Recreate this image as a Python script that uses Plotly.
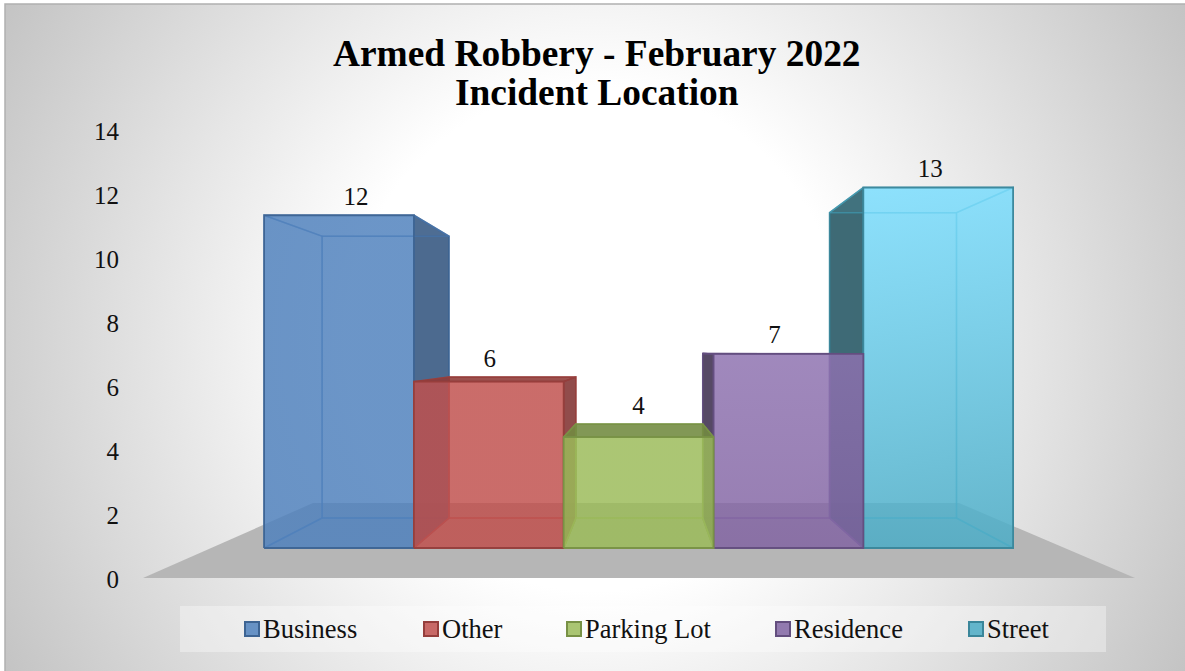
import base64
import plotly.graph_objects as go

# ---- data ----
categories = ["Business", "Other", "Parking Lot", "Residence", "Street"]
values = [12, 6, 4, 7, 13]
y_ticks = [0, 2, 4, 6, 8, 10, 12, 14]
title_lines = ["Armed Robbery - February 2022", "Incident Location"]
series_rgb = [(79, 129, 189), (192, 80, 77), (155, 187, 89), (128, 100, 162), (75, 172, 198)]
front_top_rgb = [(79, 129, 189), (192, 80, 77), (155, 187, 89), (142, 114, 176), (122, 222, 255)]
front_bottom_rgb = [(79, 129, 189), (192, 80, 77), (155, 187, 89), (130, 100, 162), (75, 172, 198)]

# ---- canvas / axis scales ----
W, H = 1185, 671
PX_PER_CAT, CAT0_PX = 149.8, 339.0
PX_PER_UNIT, ZERO_PX = 31.98, 579.3
FLOOR_FRONT = (ZERO_PX - 548) / PX_PER_UNIT   # front bottom edge of the bars
BAR_SCALE = 27.73 / PX_PER_UNIT               # front-plane height of one value
BACK_SCALE = 0.847                            # perspective shrink of the rear plane
VX, VY = 2.03, (ZERO_PX - 352) / PX_PER_UNIT  # vanishing point


def proj(x, v, depth):
    s = 1 - depth * (1 - BACK_SCALE)
    y = FLOOR_FRONT + BAR_SCALE * v
    return VX + (x - VX) * s, VY + (y - VY) * s


def rgba(c, a, f=1.0):
    return f"rgba({int(c[0]*f)},{int(c[1]*f)},{int(c[2]*f)},{a})"


fig = go.Figure()


def face(corners, fill, line, width=1.5, name=None, gradient=None):
    xs = [p[0] for p in corners] + [corners[0][0]]
    ys = [p[1] for p in corners] + [corners[0][1]]
    kw = dict(fillgradient=gradient) if gradient else dict(fillcolor=fill)
    fig.add_trace(go.Scatter(x=xs, y=ys, mode="lines", fill="toself", name=name,
                             line=dict(color=line, width=width), hoverinfo="skip",
                             showlegend=False, **kw))


# floor
fl_front_y = (ZERO_PX - 578) / PX_PER_UNIT
fl_back_y = (ZERO_PX - 503) / PX_PER_UNIT
to_x = lambda px: (px - CAT0_PX) / PX_PER_CAT
face([(to_x(143), fl_front_y), (to_x(1135), fl_front_y), (to_x(959), fl_back_y), (to_x(313), fl_back_y)],
     "#b6b6b6", "rgba(182,182,182,0)", 0)

for i in [0, 4, 1, 3, 2]:
    c, v = series_rgb[i], values[i]
    xl, xr = i - 0.5, i + 0.5
    edge = rgba(c, 0.95, 0.78)
    soft = rgba(c, 0.6, 0.95)
    fbl, fbr, ftr, ftl = proj(xl, 0, 0), proj(xr, 0, 0), proj(xr, v, 0), proj(xl, v, 0)
    bbl, bbr, btr, btl = proj(xl, 0, 1), proj(xr, 0, 1), proj(xr, v, 1), proj(xl, v, 1)
    # rear and floor faces
    face([bbl, bbr, btr, btl], rgba(c, 0.10), soft)
    face([fbl, fbr, bbr, bbl], rgba(c, 0.15), soft)
    # side faces: dark when they stick out of the front face
    left_out = xl > VX
    right_out = xr < VX
    face([fbl, bbl, btl, ftl], rgba(c, 0.88, 0.5) if left_out else rgba(c, 0.10), edge if left_out else soft)
    face([fbr, bbr, btr, ftr], rgba(c, 0.88, 0.68) if right_out else rgba(c, 0.10), edge if right_out else soft)
    # top face
    top_out = ftl[1] < VY
    face([ftl, ftr, btr, btl], rgba(c, 0.88, 0.74) if top_out else rgba(c, 0.10), edge if top_out else soft)
    # front face
    grad = dict(type="vertical",
                colorscale=[[0, rgba(front_bottom_rgb[i], 0.82)], [1, rgba(front_top_rgb[i], 0.82)]])
    face([fbl, fbr, ftr, ftl], None, edge, 1.8, categories[i], grad)

# data labels
label_dx = [17, 1, 0, -14, -8]
lx, ly, lt = [], [], []
for i, v in enumerate(values):
    lx.append(i + label_dx[i] / PX_PER_CAT)
    ly.append(max(proj(i, v, 0)[1], proj(i, v, 1)[1]) + 16.5 / PX_PER_UNIT)
    lt.append(str(v))
fig.add_trace(go.Scatter(x=lx, y=ly, text=lt, mode="text", textposition="middle center",
                         textfont=dict(family="Liberation Serif", size=25, color="#111"),
                         hoverinfo="skip", showlegend=False))

# background gradient as an image
svg = f"""<svg xmlns='http://www.w3.org/2000/svg' width='{W-5}' height='{H-4}' preserveAspectRatio='none'>
<defs><radialGradient id='g' gradientUnits='userSpaceOnUse' cx='0' cy='0' r='1'
 gradientTransform='translate(590,335) scale(680,690)'>
<stop offset='0' stop-color='#ffffff'/><stop offset='0.365' stop-color='#ffffff'/>
<stop offset='1' stop-color='#c3c3c3'/></radialGradient></defs>
<rect width='100%' height='100%' fill='url(#g)'/></svg>"""
bg_uri = "data:image/svg+xml;base64," + base64.b64encode(svg.encode()).decode()

shapes = [
    dict(type="rect", xref="paper", yref="paper", x0=5 / W, x1=1 + 2 / W, y0=-2 / H, y1=1 - 4 / H,
         fillcolor="rgba(0,0,0,0)", line=dict(color="#b0b0b0", width=1.5), layer="below"),
    dict(type="rect", xref="paper", yref="paper", x0=180 / W, x1=1106 / W,
         y0=1 - 652 / H, y1=1 - 606 / H, fillcolor="rgba(255,255,255,0.35)",
         line=dict(width=0), layer="below"),
]
annotations = []
for line, ty in zip(title_lines, [53, 92]):
    annotations.append(dict(xref="paper", yref="paper", x=597 / W, y=1 - ty / H, text=f"<b>{line}</b>",
                            showarrow=False, xanchor="center", yanchor="middle",
                            font=dict(family="Liberation Serif", size=37.4, color="black")))
swatch_px = [244, 423, 566, 775, 968]
for i, name in enumerate(categories):
    sx = swatch_px[i]
    shapes.append(dict(type="rect", xref="paper", yref="paper", x0=(sx + 1) / W, x1=(sx + 15) / W,
                       y0=1 - 636 / H, y1=1 - 622 / H, fillcolor=rgba(series_rgb[i], 0.85),
                       line=dict(color=rgba(series_rgb[i], 1, 0.78), width=2)))
    annotations.append(dict(xref="paper", yref="paper", x=(sx + 17) / W, y=1 - 629 / H, text=name,
                            showarrow=False, xanchor="left", yanchor="middle",
                            font=dict(family="Liberation Serif", size=26.5, color="#111")))

fig.update_layout(
    width=W, height=H, autosize=False,
    margin=dict(l=0, r=0, t=0, b=0, pad=0),
    paper_bgcolor="white", plot_bgcolor="rgba(0,0,0,0)",
    showlegend=False,
    xaxis=dict(visible=False, range=[(0 - CAT0_PX) / PX_PER_CAT, (W - CAT0_PX) / PX_PER_CAT],
               fixedrange=True),
    yaxis=dict(range=[(ZERO_PX - H) / PX_PER_UNIT, ZERO_PX / PX_PER_UNIT], tickvals=y_ticks,
               anchor="free", position=119 / W, showgrid=False, zeroline=False, showline=False,
               ticks="", fixedrange=True,
               tickfont=dict(family="Liberation Serif", size=25, color="#111")),
    images=[dict(source=bg_uri, xref="paper", yref="paper", x=5 / W, y=1 - 4 / H,
                 sizex=(W - 5) / W, sizey=(H - 4) / H, sizing="stretch", layer="below",
                 xanchor="left", yanchor="top")],
    shapes=shapes, annotations=annotations,
)
fig.write_html("out.html", config=dict(displayModeBar=False),
               post_script="document.body.style.margin='0';document.body.style.overflow='hidden';")
